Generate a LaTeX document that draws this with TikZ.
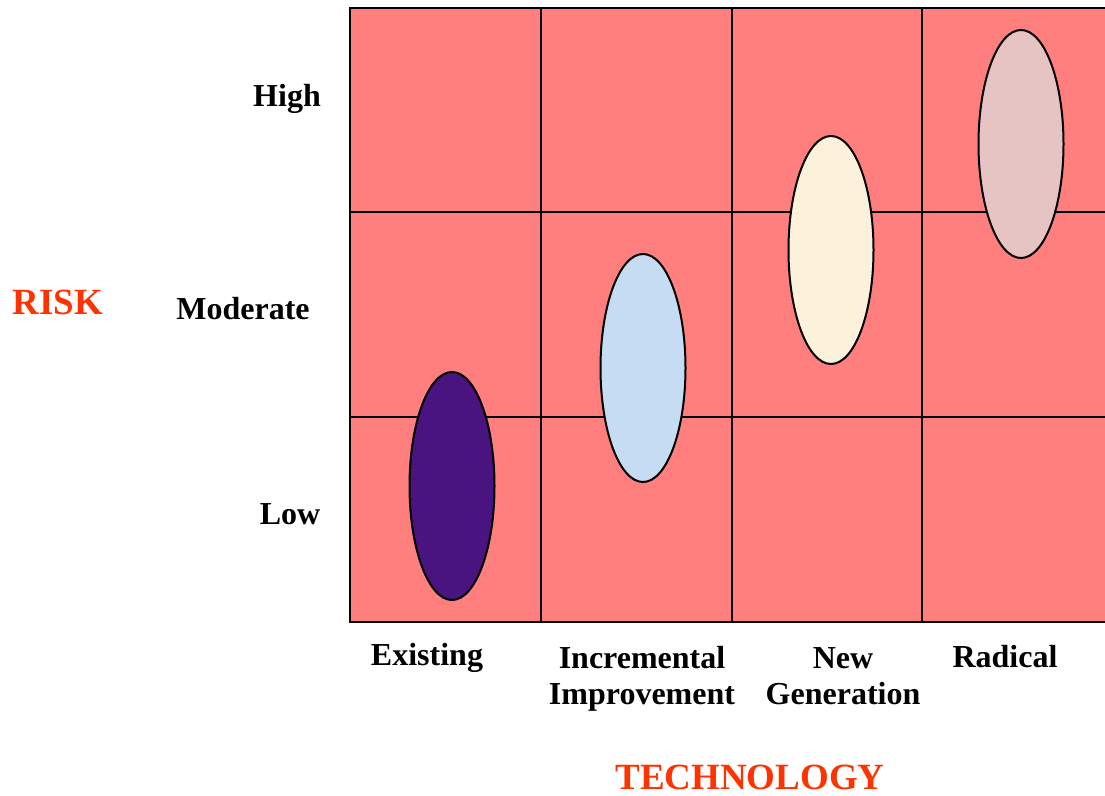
\documentclass[tikz,border=0pt]{standalone}
\usepackage{fontspec}
\setmainfont{Liberation Serif}
\usetikzlibrary{shapes.geometric}
\definecolor{cellred}{HTML}{FF7F7F}
\definecolor{titlered}{HTML}{FF3300}
\definecolor{ovpurple}{HTML}{4A1480}
\definecolor{ovblue}{HTML}{C6DCF2}
\definecolor{ovcream}{HTML}{FCF2DC}
\definecolor{ovpink}{HTML}{E6C4C4}
\begin{document}
\begin{tikzpicture}[x=1pt,y=-1pt,
  lab/.style={font=\fontsize{32}{36}\selectfont\bfseries, align=center, inner sep=0pt},
  ttl/.style={font=\fontsize{37}{40}\selectfont\bfseries, text=titlered, inner sep=0pt},
  oval/.style={ellipse, draw=black, line width=2pt, minimum width=85pt, minimum height=228pt, inner sep=0pt},
  grid/.style={line width=2.2pt, draw=black}]
\useasboundingbox (0,0) rectangle (1105,795);
\fill[cellred] (350,8) rectangle (1105,622);
\draw[grid] (1105,8) -- (350,8) -- (350,622) -- (1105,622);
\draw[grid] (541,8) -- (541,622);
\draw[grid] (732,8) -- (732,622);
\draw[grid] (922,8) -- (922,622);
\draw[grid] (350,212) -- (1105,212);
\draw[grid] (350,417) -- (1105,417);
\node[oval, fill=ovpurple] (o1) at (452,486) {};
\node[oval, fill=ovblue] (o2) at (643,368) {};
\node[oval, fill=ovcream] (o3) at (831,250) {};
\node[oval, fill=ovpink] (o4) at (1021,144) {};
\node[lab] (high) at (287,99) {High};
\node[lab] (mod) at (243,309) {Moderate};
\node[lab] (low) at (290,514) {Low};
\node[ttl] (risk) at (58,302) {RISK};
\node[lab] (ex) at (427,658) {Existing};
\node[lab] (inc) at (642,679) {Incremental\\Improvement};
\node[lab] (ng) at (843,676) {New\\Generation};
\node[lab] (rad) at (1005,657) {Radical};
\node[ttl] (tech) at (750,777) {TECHNOLOGY};
\end{tikzpicture}
\end{document}
